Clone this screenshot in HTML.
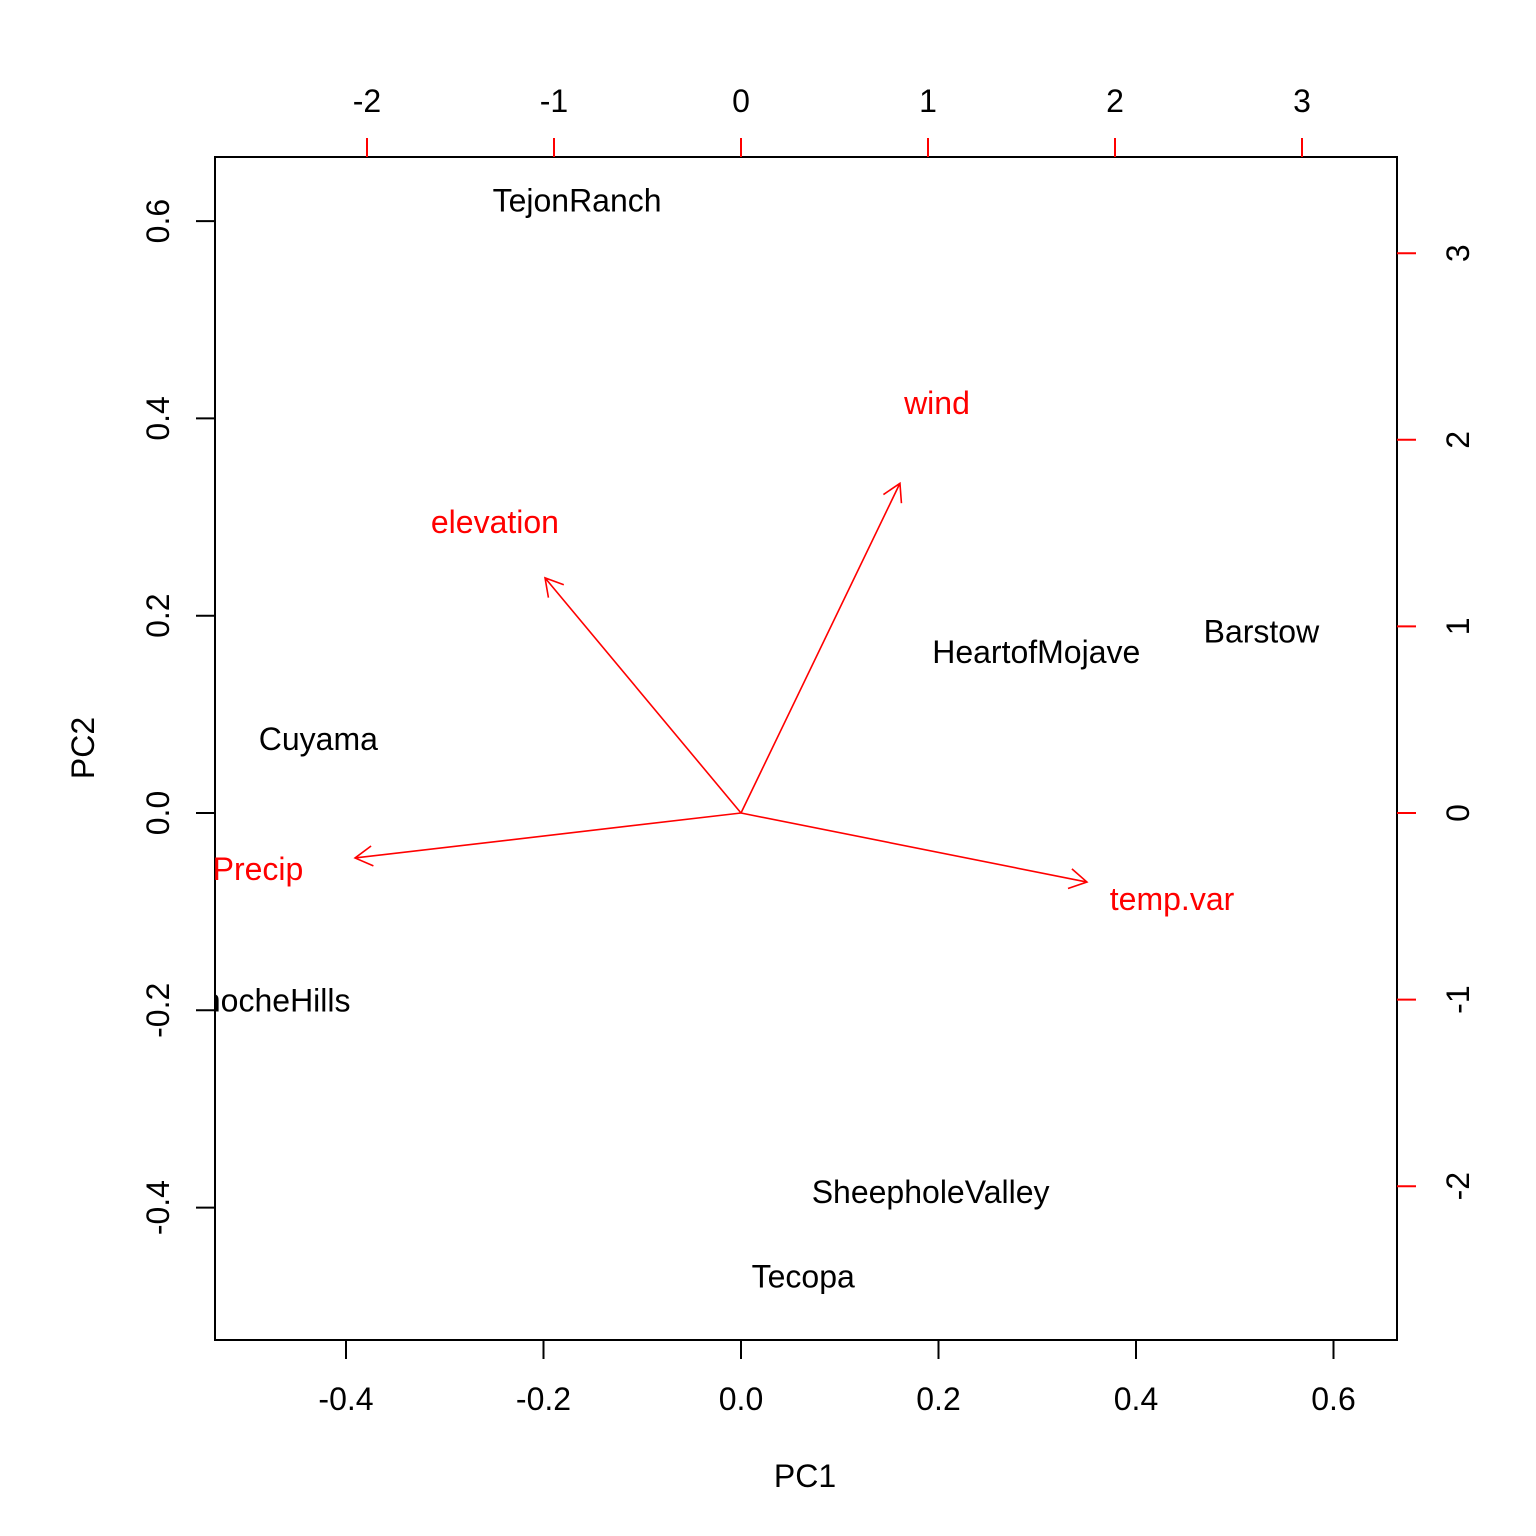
<!DOCTYPE html>
<html><head><meta charset="utf-8"><style>
html,body{margin:0;padding:0;background:#fff;}
svg{display:block;font-family:"Liberation Sans",Arial,sans-serif;}
</style></head><body>
<svg id="chart" width="1536" height="1536" viewBox="0 0 1536 1536" xmlns="http://www.w3.org/2000/svg">
<defs><clipPath id="clip"><rect x="215" y="157" width="1182" height="1183"/></clipPath></defs>
<rect x="215" y="157" width="1182" height="1183" fill="none" stroke="#000" stroke-width="2"/>
<g id="axes"></g>
<g id="points" clip-path="url(#clip)"></g>
<g id="arrows"></g>
<text x="805" y="1487" font-size="32" text-anchor="middle">PC1</text>
<text transform="translate(94,748) rotate(-90)" font-size="32" text-anchor="middle">PC2</text>
</svg>
<script>
const siteNames = ["TejonRanch","Cuyama","HeartofMojave","Barstow","PanocheHills","SheepholeValley","Tecopa"];
const pc1Scores = [-0.166,-0.428,0.299,0.527,-0.490,0.192,0.063];
const pc2Scores = [0.621,0.075,0.163,0.184,-0.19,-0.384,-0.470];
const varNames = ["wind","elevation","Precip","temp.var"];
const load1 = [0.850,-1.048,-2.064,1.850];
const load2 = [1.767,1.26,-0.241,-0.370];
const labelX = [1.048,-1.316,-2.583,2.305];
const labelY = [2.197,1.56,-0.30,-0.461];
const bottomTicks = [-0.4,-0.2,0.0,0.2,0.4,0.6];
const leftTicks = [-0.4,-0.2,0.0,0.2,0.4,0.6];
const topTicks = [-2,-1,0,1,2,3];
const rightTicks = [-2,-1,0,1,2,3];

const NS="http://www.w3.org/2000/svg";
const FS=32;
const sx=v=>741+v*987.5, sy=v=>813-v*986.5;
const lx=v=>741+v*187, ly=v=>813-v*186.6;
function mk(tag,parent,attrs,txt){const e=document.createElementNS(NS,tag);for(const k in attrs)e.setAttribute(k,attrs[k]);if(txt!==undefined)e.textContent=txt;parent.appendChild(e);return e;}
const axes=document.getElementById('axes');
bottomTicks.forEach(t=>{const x=sx(t);
 const l=mk('line',axes,{x1:x,x2:x,y1:1340,y2:1359,stroke:'#000','stroke-width':2});
 
 
 const tx=mk('text',axes,{x:x,y:1410,'font-size':FS,'text-anchor':'middle'},t.toFixed(1));
 
 });
leftTicks.forEach(t=>{const y=sy(t);
 const l=mk('line',axes,{x1:196,x2:215,y1:y,y2:y,stroke:'#000','stroke-width':2});
 
 
 const tx=mk('text',axes,{transform:`translate(169,${y}) rotate(-90)`,'font-size':FS,'text-anchor':'middle'},t.toFixed(1));
 
 });
topTicks.forEach(t=>{const x=lx(t);
 const l=mk('line',axes,{x1:x,x2:x,y1:138,y2:157,stroke:'#f00','stroke-width':2});
 
 
 const tx=mk('text',axes,{x:x,y:112,'font-size':FS,'text-anchor':'middle'},String(t));
 
 });
rightTicks.forEach(t=>{const y=ly(t);
 const l=mk('line',axes,{x1:1397,x2:1416,y1:y,y2:y,stroke:'#f00','stroke-width':2});
 
 
 const tx=mk('text',axes,{transform:`translate(1469,${y}) rotate(-90)`,'font-size':FS,'text-anchor':'middle'},String(t));
 
 });
const pts=document.getElementById('points');
siteNames.forEach((n,i)=>{
 const tx=mk('text',pts,{x:sx(pc1Scores[i]),y:sy(pc2Scores[i])+11,'font-size':FS,'text-anchor':'middle'},n);
 
 });
const arr=document.getElementById('arrows');
varNames.forEach((n,i)=>{
 const x0=lx(0),y0=ly(0),x1=lx(load1[i]),y1=ly(load2[i]);
 const a=Math.atan2(y1-y0,x1-x0),h=20,s=Math.PI/6;
 const d=`M${x0},${y0}L${x1},${y1}M${x1-h*Math.cos(a-s)},${y1-h*Math.sin(a-s)}L${x1},${y1}L${x1-h*Math.cos(a+s)},${y1-h*Math.sin(a+s)}`;
 const p=mk('path',arr,{d:d,stroke:'#f00','stroke-width':1.6,fill:'none'});
 
 
 const tx=mk('text',arr,{x:lx(labelX[i]),y:ly(labelY[i])+11,'font-size':FS,'text-anchor':'middle',fill:'#f00'},n);
 
 });
</script>
</body></html>
